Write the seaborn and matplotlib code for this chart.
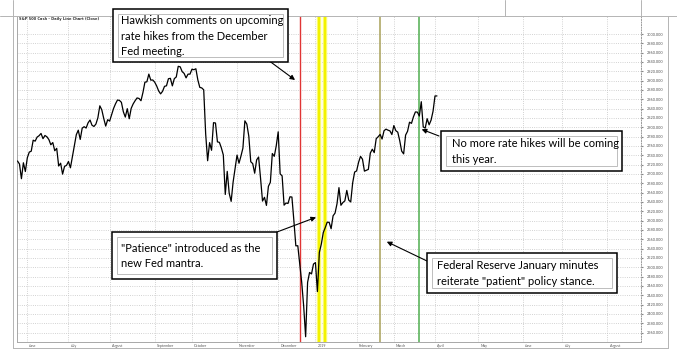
import numpy as np
import pandas as pd
import seaborn as sns
import matplotlib.pyplot as plt
from matplotlib.patches import Rectangle
from matplotlib.lines import Line2D
from matplotlib.transforms import ScaledTranslation

sns.set_style('white')
plt.rcParams['font.family'] = ['Lato', 'DejaVu Sans']

W, H = 677, 356

# S&P 500 daily closes, one value per trading day
close_may18 = [2727.76, 2721.33, 2689.86, 2724.01, 2705.27]
close_jun18 = [2734.62, 2746.87, 2748.80, 2772.35, 2770.37, 2779.03, 2782.00, 2786.85, 2775.63, 2782.49, 2779.66,
               2773.75, 2762.59, 2767.32, 2749.76, 2754.88, 2717.07, 2723.06, 2699.63, 2716.31, 2718.37]
close_jul18 = [2726.71, 2713.22, 2736.61, 2759.82, 2784.17, 2793.84, 2774.02, 2798.29, 2801.31, 2798.43, 2809.55,
               2815.62, 2804.49, 2801.83, 2806.98, 2820.40, 2846.07, 2837.44, 2818.82, 2802.60, 2816.29]
close_aug18 = [2813.36, 2827.22, 2840.35, 2850.40, 2858.45, 2857.70, 2853.58, 2833.28, 2821.93, 2839.96, 2818.37,
               2840.69, 2850.13, 2857.05, 2862.96, 2861.82, 2856.98, 2874.69, 2896.74, 2897.52, 2914.04, 2901.13, 2901.52]
close_sep18 = [2896.72, 2888.60, 2878.05, 2871.68, 2877.13, 2887.89, 2888.92, 2904.18, 2904.98, 2888.80, 2904.31,
               2907.95, 2930.75, 2929.67, 2919.37, 2915.56, 2905.97, 2914.00, 2913.98]
close_oct18 = [2924.59, 2923.43, 2925.51, 2901.61, 2885.57, 2884.43, 2880.34, 2785.68, 2728.37, 2767.13, 2750.79,
               2809.92, 2809.21, 2768.78, 2767.78, 2755.88, 2740.69, 2656.10, 2705.57, 2658.69, 2641.25, 2682.63, 2711.74]
close_nov18 = [2740.37, 2723.06, 2738.31, 2755.45, 2813.89, 2806.83, 2781.01, 2726.22, 2722.18, 2701.58, 2730.20,
               2736.27, 2690.73, 2641.89, 2649.93, 2632.56, 2673.45, 2682.17, 2743.79, 2737.80, 2760.17]
close_dec18 = [2790.37, 2700.06, 2695.95, 2633.08, 2637.72, 2636.78, 2651.07, 2650.54, 2599.95, 2545.94, 2546.16,
               2506.96, 2467.42, 2416.62, 2351.10, 2467.70, 2488.83, 2485.74, 2506.85]
close_jan19 = [2510.03, 2447.89, 2531.94, 2549.69, 2574.41, 2584.96, 2596.64, 2596.26, 2582.61, 2610.30, 2616.10,
               2635.96, 2670.71, 2632.90, 2638.70, 2642.33, 2664.76, 2643.85, 2640.00, 2681.05, 2704.10]
close_feb19 = [2706.53, 2724.87, 2737.70, 2731.61, 2706.05, 2707.88, 2709.80, 2744.73, 2753.03, 2745.73, 2775.60,
               2779.76, 2784.70, 2774.88, 2792.67, 2796.11, 2793.90, 2792.38, 2784.49]
close_mar19 = [2803.69, 2792.81, 2789.65, 2771.45, 2748.93, 2743.07, 2783.30, 2791.52, 2810.92, 2808.48, 2822.48,
               2832.94, 2832.57, 2824.23, 2854.88, 2800.71, 2798.36, 2818.46, 2805.37, 2815.44, 2834.40]
close_apr19 = [2867.19, 2867.24]

close = (close_may18 + close_jun18 + close_jul18 + close_aug18 + close_sep18 + close_oct18 + close_nov18
         + close_dec18 + close_jan19 + close_feb19 + close_mar19 + close_apr19)

month_labels = ['June', 'July', 'August', 'September', 'October', 'November', 'December', '2019',
                'February', 'March', 'April', 'May', 'June', 'July', 'August']
month_ticks = [5, 26, 47, 70, 89, 112, 133, 152, 173, 192, 213, 235, 258, 278, 301]
price_ticks = list(range(2360, 3001, 20))

# event days (trading-day index)
fed_meeting_day = 144
patience_days = [154, 157]
minutes_day = 185
no_hikes_day = 205

df = pd.DataFrame({'day': range(len(close)), 'close': close})

fig = plt.figure(figsize=(W / 100, H / 100), dpi=100)


def fx(px):
    return px / W


def fy(py):
    return 1 - py / H


ax = fig.add_axes([fx(17), fy(342), fx(641) - fx(17), fy(16) - fy(342)])
ax.set_xlim(-0.26, 318.1)
ax.set_ylim(2339.8, 3038.6)

# event lines
ax.axvline(fed_meeting_day, color='#e03535', lw=1.0, zorder=2)
for d in patience_days:
    ax.axvline(d, color='#fbfb7a', lw=3.2, zorder=2)
    ax.axvline(d, color='#f2f200', lw=1.6, zorder=2)
ax.axvline(minutes_day, color='#a8a058', lw=1.1, zorder=2)
ax.axvline(no_hikes_day, color='#4fae4f', lw=1.1, zorder=2)

sns.lineplot(data=df, x='day', y='close', color='black', lw=0.9, ax=ax, zorder=3)
ax.set_xlabel('')
ax.set_ylabel('')

# axes styling
ax.yaxis.tick_right()
ax.set_yticks(price_ticks)
ax.set_yticklabels([f'{v:.3f}' for v in price_ticks])
ax.tick_params(axis='y', labelsize=2.8, labelcolor='#555555', length=1.5, color='#888888', pad=2.5)
ax.set_xticks(month_ticks)
ax.set_xticklabels(month_labels)
ax.tick_params(axis='x', labelsize=2.6, labelcolor='#555555', length=5.8, color='#999999', width=0.6, pad=-4.6)
for lab in ax.get_xticklabels():
    lab.set_ha('left')
    lab.set_transform(lab.get_transform() + ScaledTranslation(1.5 / 72, 0, fig.dpi_scale_trans))
ax.grid(True, ls=':', color='#c4c4c4', lw=0.6)
ax.spines['top'].set_visible(False)
ax.spines['left'].set_color('#a8a8a8')
ax.spines['bottom'].set_color('#a8a8a8')
ax.spines['right'].set_color('#9a9a9a')
ax.spines['right'].set_linestyle(':')
for s in ['left', 'bottom', 'right']:
    ax.spines[s].set_linewidth(0.7)

# outer frame
frame_color = '#b4b4b4'
for xs, ys in [([0, W], [16, 16]), ([13, 13], [0, 348]), ([668, 668], [16, 348]),
               ([13, 668], [348, 348]), ([505, 505], [0, 16]), ([641, 641], [0, 16])]:
    fig.add_artist(Line2D([fx(x) for x in xs], [fy(y) for y in ys], transform=fig.transFigure,
                          color=frame_color, lw=0.7))

fig.text(fx(19), fy(19), 'S&P 500 Cash - Daily Line Chart (Close)', fontsize=2.6, fontweight='bold',
         color='#333333', va='center', ha='left', family='DejaVu Sans')


def note(x0, y0, x1, y1, tx, text):
    fig.add_artist(Rectangle((fx(x0), fy(y1)), fx(x1) - fx(x0), fy(y0) - fy(y1), transform=fig.transFigure,
                             fc='white', ec='black', lw=1.1, zorder=5))
    fig.add_artist(Rectangle((fx(x0 + 5), fy(y1 - 5)), fx(x1 - x0 - 10), fy(y0 + 5) - fy(y1 - 5),
                             transform=fig.transFigure, fc='none', ec='#bdbdbd', lw=0.7, zorder=6))
    fig.text(fx(tx), fy((y0 + y1) / 2 + 0.5), text, fontsize=8, color='black', va='center', ha='left',
             linespacing=1.45, zorder=7)


def arrow(head, tail):
    ax.annotate('', xy=head, xycoords='data', xytext=(tail[0], H - tail[1]), textcoords='figure pixels',
                arrowprops=dict(arrowstyle='-|>', color='black', lw=0.8, mutation_scale=7,
                                shrinkA=0, shrinkB=0),
                annotation_clip=False, zorder=8)


note(113, 9, 288, 62, 121, 'Hawkish comments on upcoming\nrate hikes from the December\nFed meeting.')
note(112, 232, 277, 279, 121, '"Patience" introduced as the\nnew Fed mantra.')
note(441, 131, 622, 171, 452, 'No more rate hikes will be coming\nthis year.')
note(427, 253, 617, 293, 437, 'Federal Reserve January minutes\nreiterate "patient" policy stance.')

arrow((141.6, 2901.4), (268, 60))
arrow((152.3, 2607.1), (277, 232))
arrow((188.4, 2554.8), (427, 261))
arrow((206.2, 2795.7), (439, 136))

fig.savefig('out.png', dpi=100)
